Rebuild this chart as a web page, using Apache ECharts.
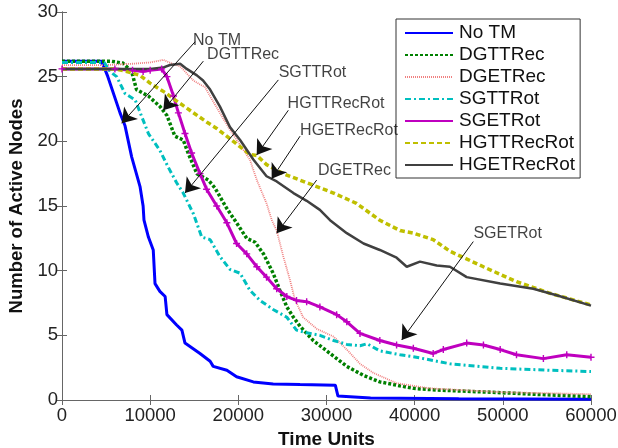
<!DOCTYPE html>
<html>
<head>
    <meta charset="UTF-8"/>
    <script src="https://cdn.jsdelivr.net/npm/echarts@6/dist/echarts.min.js"></script>
    <title>Active Nodes</title>
    <style>
        html, body { margin: 0; padding: 0; background: #fff; }
        #main { width: 618px; height: 448px; }
    </style>
</head>
<body>
<div id="main"></div>

<script type="text/javascript">
    // series data, [time, nodes]
    var noTM = [[0,26.2],[4500,26.2],[5200,25.0],[6580,22.2],[7150,21.2],[7900,18.8],[8850,16.5],[9200,15.0],[9300,13.9],[9800,12.6],[10350,11.6],[10550,9.0],[11100,8.4],[11700,8.0],[11900,6.6],[13000,5.8],[13600,5.4],[13950,4.4],[15650,3.6],[16800,3.0],[17150,2.6],[18700,2.3],[19800,1.8],[21700,1.4],[23950,1.24],[27000,1.2],[31000,1.15],[31300,0.3],[35000,0.15],[45000,0.1],[60000,0.05]];
    var dgttRec = [[0,26.2],[5500,26.2],[6900,26.05],[7900,25.4],[8450,24.0],[9800,23.5],[11100,22.7],[11900,22.0],[12800,20.4],[13750,20.1],[14300,19.1],[15300,17.5],[16600,17.0],[17350,16.4],[18700,14.8],[19800,13.7],[20950,12.5],[21900,12.2],[22850,11.3],[23950,9.8],[24700,8.5],[25500,7.2],[26250,6.4],[27000,5.7],[28500,4.6],[30400,3.6],[32300,2.6],[34200,1.9],[36050,1.4],[39850,0.9],[42500,0.77],[49700,0.57],[55000,0.4],[60000,0.26]];
    var dgetRec = [[0,25.9],[5000,25.9],[8000,26.0],[10000,26.1],[11500,26.3],[12500,26.0],[13400,25.8],[14900,24.7],[15650,24.4],[16200,24.2],[17900,22.2],[19050,20.9],[21300,18.6],[22100,17.0],[23200,15.2],[23800,13.9],[24350,13.1],[25100,11.1],[25850,9.3],[26400,7.8],[27350,6.4],[28900,5.5],[30800,4.9],[32300,3.9],[33800,2.8],[35300,2.1],[37950,1.3],[41700,0.9],[50000,0.6],[60000,0.45]];
    var sgttRot = [[0,26.1],[4800,26.1],[5450,25.4],[6200,25.0],[7150,23.7],[8300,23.2],[9050,21.9],[9800,20.6],[11100,19.3],[12050,18.0],[13000,16.8],[13750,16.0],[14900,14.4],[15850,12.6],[16800,12.4],[17900,11.1],[19050,10.1],[20200,9.8],[21300,8.5],[22450,7.7],[23950,7.0],[25500,6.4],[26600,5.4],[27750,5.2],[29250,5.0],[30800,4.6],[32300,4.3],[33800,4.2],[34600,4.35],[36050,3.8],[38350,3.5],[39850,3.35],[42500,3.0],[44000,2.8],[49700,2.45],[55350,2.3],[60000,2.2]];
    var sgetRot = [[0,25.6],[6000,25.6],[8000,25.5],[9200,25.4],[10000,25.5],[11300,25.6],[11900,25.0],[12650,23.5],[13200,22.2],[13950,20.6],[14700,19.1],[15650,17.5],[16400,16.3],[17550,15.0],[18700,13.7],[19800,12.1],[20950,11.3],[22100,10.3],[23200,9.5],[24350,8.6],[25500,8.0],[26600,7.7],[27750,7.6],[29250,7.2],[31150,6.6],[32300,6.05],[33800,5.15],[36050,4.6],[37950,4.25],[39850,4.0],[42100,3.6],[43250,3.9],[45900,4.4],[47800,4.25],[49700,3.9],[51550,3.5],[54600,3.2],[57250,3.5],[60000,3.3]];
    var hgttRecRot = [[0,25.6],[6000,25.6],[7350,25.4],[8850,25.1],[9980,24.5],[11870,23.7],[12620,23.3],[14500,22.4],[16400,21.5],[17550,21.0],[19050,20.2],[21300,19.0],[22100,18.9],[23200,18.2],[25100,17.5],[27000,17.0],[28900,16.5],[30800,16.0],[33400,15.2],[36050,13.9],[38350,13.1],[39850,12.9],[42100,12.4],[44000,11.5],[47800,10.3],[51550,9.15],[55350,8.25],[60000,7.35]];
    var hgetRecRot = [[0,25.6],[10000,25.6],[11460,25.7],[12250,25.9],[13400,26.0],[14150,25.6],[15300,25.1],[16000,24.7],[16800,24.0],[17900,22.7],[19050,21.1],[20200,20.1],[21700,18.6],[23200,17.3],[24350,16.9],[26250,16.0],[27750,15.4],[29250,14.7],[30400,13.9],[32300,12.9],[34200,12.1],[36050,11.6],[37950,11.0],[39100,10.3],[40600,10.7],[42500,10.4],[44000,10.3],[45900,9.5],[49700,9.0],[53450,8.6],[56100,8.1],[60000,7.3]];

    var seriesNames = ['No TM', 'DGTTRec', 'DGETRec', 'SGTTRot', 'SGETRot', 'HGTTRecRot', 'HGETRecRot'];

    // annotation text positions and arrows (data coords)
    var noteNames = ['No TM', 'DGTTRec', 'SGTTRot', 'HGTTRecRot', 'HGETRecRot', 'DGETRec', 'SGETRot'];
    var noteText = [[17580,27.8],[20540,26.7],[28410,25.3],[31080,22.95],[32550,20.83],[33170,17.73],[50550,12.9]];
    var arrowFrom = [[15100,27.7],[16030,26.2],[24540,24.75],[25670,22.4],[27000,20.4],[28880,17.0],[46650,12.25]];
    var arrowTo = [[6770,21.4],[11490,22.4],[13950,16.0],[22080,18.95],[23780,17.1],[24350,12.9],[38530,4.64]];

    var FONT = 'Liberation Sans, Arial, sans-serif';
    var plusPath = 'path://M4,0H6V10H4ZM0,4H10V6H0Z';

    function initChart() {
        var myChart = echarts.init(document.getElementById('main'));

        var arrows = [];
        for (var i = 0; i < arrowFrom.length; i++) {
            arrows.push([{coord: arrowFrom[i]}, {coord: arrowTo[i]}]);
        }
        var notes = [];
        for (var j = 0; j < noteNames.length; j++) {
            notes.push({name: noteNames[j], value: noteText[j]});
        }

        function lineSeries(name, data, color, width, type, extra) {
            var s = {
                name: name,
                type: 'line',
                data: data,
                showSymbol: false,
                symbol: 'none',
                lineStyle: {color: color, width: width, type: type},
                itemStyle: {color: color},
                z: 2
            };
            if (extra) {
                for (var k in extra) s[k] = extra[k];
            }
            return s;
        }

        var option = {
            animation: false,
            backgroundColor: '#fff',
            textStyle: {fontFamily: FONT},
            grid: {left: 62, top: 12, right: 27, bottom: 48, containLabel: false, outerBoundsMode: 'none'},
            legend: {
                data: seriesNames,
                orient: 'vertical',
                left: 396,
                top: 19,
                width: 187,
                padding: [4, 5, 3, 8],
                itemGap: 2,
                itemWidth: 48,
                itemHeight: 14,
                itemStyle: {opacity: 0},
                backgroundColor: '#fff',
                borderColor: '#333',
                borderWidth: 1,
                borderRadius: 0,
                textStyle: {fontFamily: FONT, fontSize: 19, color: '#111', lineHeight: 20, padding: [0, 0, 0, 1]}
            },
            xAxis: [{
                type: 'value',
                min: 0, max: 60000, interval: 10000,
                name: 'Time Units',
                nameLocation: 'middle',
                nameGap: 30,
                nameTextStyle: {fontFamily: FONT, fontSize: 19, fontWeight: 'bold', color: '#111'},
                axisLine: {lineStyle: {color: '#666', width: 1}},
                axisTick: {inside: true, length: 5, lineStyle: {color: '#666'}},
                axisLabel: {fontFamily: FONT, fontSize: 18.5, color: '#222', margin: 6,
                    formatter: function (v) { return String(v); }},
                splitLine: {show: false}
            }, {
                type: 'value', position: 'top',
                min: 0, max: 60000, interval: 10000,
                axisLine: {lineStyle: {color: '#666', width: 1}},
                axisTick: {inside: true, length: 5, lineStyle: {color: '#666'}},
                axisLabel: {show: false},
                splitLine: {show: false}
            }],
            yAxis: [{
                type: 'value',
                min: 0, max: 30, interval: 5,
                name: 'Number of Active Nodes',
                nameLocation: 'middle',
                nameGap: 36,
                nameTextStyle: {fontFamily: FONT, fontSize: 18.5, fontWeight: 'bold', color: '#111'},
                axisLine: {show: true, lineStyle: {color: '#666', width: 1}},
                axisTick: {show: true, inside: true, length: 5, lineStyle: {color: '#666'}},
                axisLabel: {fontFamily: FONT, fontSize: 18.5, color: '#222', margin: 4},
                splitLine: {show: false}
            }, {
                type: 'value', position: 'right',
                min: 0, max: 30, interval: 5,
                axisLine: {show: true, lineStyle: {color: '#666', width: 1}},
                axisTick: {show: true, inside: true, length: 5, lineStyle: {color: '#666'}},
                axisLabel: {show: false},
                splitLine: {show: false}
            }],
            series: [
                lineSeries('No TM', noTM, '#0000ff', 3, 'solid'),
                lineSeries('DGTTRec', dgttRec, '#008000', 3.5, [3, 2]),
                lineSeries('DGETRec', dgetRec, '#f08080', 1.8, [1, 1]),
                lineSeries('SGTTRot', sgttRot, '#00bfbf', 3, [6, 3, 2, 3]),
                lineSeries('SGETRot', sgetRot, '#bf00bf', 3, 'solid', {
                    showSymbol: true, symbol: plusPath, symbolSize: 7
                }),
                lineSeries('HGTTRecRot', hgttRecRot, '#bfbf00', 3.5, [5, 3]),
                lineSeries('HGETRecRot', hgetRecRot, '#404040', 2.5, 'solid'),
                {
                    name: 'notes',
                    type: 'scatter',
                    data: notes,
                    symbolSize: 1,
                    itemStyle: {color: 'rgba(0,0,0,0)'},
                    label: {
                        show: true,
                        position: 'inside',
                        formatter: '{b}',
                        fontFamily: FONT,
                        fontSize: 16,
                        color: '#111'
                    },
                    silent: true,
                    z: 5,
                    markLine: {
                        silent: true,
                        symbol: ['none', 'arrow'],
                        symbolSize: 14,
                        label: {show: false},
                        lineStyle: {color: '#111', width: 1, type: 'solid'},
                        itemStyle: {color: '#111'},
                        emphasis: {disabled: true},
                        data: arrows
                    }
                }
            ]
        };
        myChart.setOption(option);
    }

    initChart();
</script>
</body>
</html>
